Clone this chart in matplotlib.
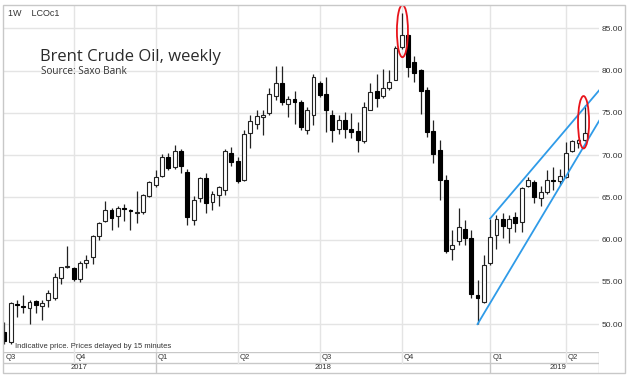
import numpy as np
import pandas as pd
import matplotlib.pyplot as plt
from matplotlib.patches import Ellipse, Rectangle

# weekly bars, Brent crude (LCOc1)
weeks = pd.date_range('2017-07-17', periods=93, freq='7D')

opens = [49.1, 47.9, 52.4, 52.2, 51.85, 52.75, 52.1, 52.86, 53.1, 55.5,
         56.75, 56.6, 55.3, 57.2, 57.9, 60.45, 62.2, 63.55, 62.8, 63.7,
         63.45, 63.2, 63.3, 65.15, 66.45, 67.55, 69.8, 68.6, 70.5, 68.0,
         62.3, 64.9, 67.25, 64.45, 65.25, 65.85, 70.25, 69.3, 67.05, 72.65,
         73.65, 74.5, 74.95, 77.0, 78.6, 76.1, 76.6, 76.3, 72.95, 74.75,
         78.6, 77.3, 74.8, 73.15, 74.2, 73.15, 72.85, 71.7, 75.4, 77.6,
         77.0, 78.0, 78.95, 82.75, 84.2, 81.0, 80.05, 77.7, 72.85, 70.6,
         67.05, 58.85, 59.9, 61.3, 60.15, 53.4, 52.65, 57.2, 60.55, 62.5,
         61.35, 62.7, 62.1, 66.35, 66.85, 64.9, 65.7, 67.05, 67.0, 67.45,
         70.5, 71.4, 71.85]
highs = [50.2, 52.6, 52.8, 53.4, 52.85, 52.85, 52.85, 54.0, 56.0, 56.8,
         59.3, 56.8, 57.5, 58.2, 60.5, 62.1, 64.6, 63.7, 63.95, 64.2,
         63.6, 65.8, 65.35, 66.95, 68.2, 70.1, 70.2, 71.2, 70.7, 68.4,
         65.15, 67.45, 67.85, 65.8, 66.35, 70.7, 71.0, 69.8, 72.95, 74.7,
         75.4, 75.4, 77.9, 80.5, 80.5, 77.0, 77.6, 76.5, 75.7, 79.65,
         78.8, 79.3, 75.3, 74.7, 75.1, 75.0, 73.95, 76.3, 78.5, 79.65,
         80.15, 80.05, 82.9, 86.85, 84.4, 81.8, 80.25, 78.1, 74.15, 71.8,
         67.6, 61.1, 63.7, 62.3, 61.1, 55.2, 58.15, 62.5, 62.9, 63.1,
         62.9, 63.3, 66.25, 67.45, 67.05, 66.4, 68.25, 68.6, 68.4, 71.6,
         71.85, 71.95, 75.9]
lows = [47.7, 47.65, 50.9, 51.3, 50.0, 51.3, 50.5, 52.0, 52.85, 54.8,
        56.6, 55.1, 55.0, 56.6, 57.1, 60.0, 62.1, 61.1, 61.45, 62.2,
        61.1, 62.0, 63.0, 65.05, 66.25, 67.45, 68.2, 68.4, 67.9, 61.7,
        61.7, 64.5, 63.2, 63.5, 64.0, 65.25, 68.7, 66.65, 66.95, 70.8,
        73.15, 72.35, 74.75, 76.5, 75.9, 74.55, 73.75, 72.95, 72.55, 73.55,
        76.9, 72.8, 71.55, 72.55, 72.0, 72.0, 70.4, 71.5, 75.3, 75.7,
        76.8, 77.7, 78.9, 82.6, 79.3, 78.7, 74.9, 72.15, 69.1, 64.7,
        58.4, 57.55, 59.35, 59.35, 53.05, 50.0, 52.45, 57.0, 58.85, 60.15,
        59.55, 60.9, 60.9, 66.2, 64.3, 64.0, 65.45, 65.85, 66.45, 67.3,
        70.4, 70.8, 71.7]
closes = [48.05, 52.45, 52.3, 52.0, 52.6, 52.25, 52.5, 53.66, 55.55, 56.8,
          56.8, 55.4, 57.25, 57.65, 60.4, 62.0, 63.5, 62.6, 63.75, 63.65,
          63.4, 63.25, 65.25, 66.85, 67.45, 69.8, 68.5, 70.5, 68.7, 62.7,
          64.75, 67.25, 64.3, 65.4, 66.2, 70.5, 69.2, 67.0, 72.55, 74.0,
          74.6, 74.8, 77.2, 78.5, 76.25, 76.7, 76.3, 73.35, 75.4, 79.25,
          77.1, 75.3, 72.95, 74.2, 73.05, 72.75, 71.85, 75.7, 77.5, 76.8,
          78.0, 78.7, 82.7, 84.2, 80.45, 79.75, 77.55, 72.75, 70.1, 67.05,
          58.7, 59.35, 61.5, 60.15, 53.6, 53.1, 57.0, 60.35, 62.5, 61.6,
          62.5, 62.0, 66.15, 67.05, 65.0, 65.7, 67.05, 67.0, 67.55, 70.3,
          71.65, 71.85, 72.65]

price_ticks = [50, 55, 60, 65, 70, 75, 80, 85]

# trend channel (bar index, price)
channel_lower = ([75, 94.3], [50.0, 74.1])
channel_upper = ([77, 94.3], [62.5, 77.7])
# highlighted bars (bar index, price)
highlights = [(63.1, 84.7), (91.8, 73.9)]

W, H = 633, 381
fig = plt.figure(figsize=(W / 100, H / 100), dpi=100)
fig.patch.set_facecolor('white')

def fx(px):
    return px / W

def fy(py):
    return 1 - py / H

grid_c = '#e4e4e4'
frame_c = '#c8c8c8'
text_c = '#333333'

ax = fig.add_axes([fx(3), fy(352), fx(599) - fx(3), fy(5) - fy(352)])
ax.set_xlim(-0.2, 94.25)
ax.set_ylim(46.7, 87.78)
for s in ax.spines.values():
    s.set_visible(False)

o = np.array(opens)
h = np.array(highs)
l = np.array(lows)
c = np.array(closes)
x = np.arange(len(o))

ax.vlines(x, l, h, color='#222222', lw=0.9, zorder=3)
up = c >= o
bot = np.minimum(o, c)
hgt = np.maximum(np.abs(c - o), 0.1)
ax.bar(x[up], hgt[up], bottom=bot[up], width=0.62, facecolor='white',
       edgecolor='#222222', lw=0.8, zorder=4)
ax.bar(x[~up], hgt[~up], bottom=bot[~up], width=0.62, facecolor='black',
       edgecolor='black', lw=0.8, zorder=4)

# quarter / year boundaries
q = weeks.to_period('Q')
q_idx = [i for i in range(1, len(q)) if q[i] != q[i - 1]]
y_idx = [i for i in q_idx if weeks[i].year != weeks[i - 1].year]

ax.set_yticks(price_ticks)
ax.set_yticklabels(['%.2f' % v for v in price_ticks])
ax.yaxis.tick_right()
ax.tick_params(axis='y', length=0, pad=2, labelsize=6, labelcolor=text_c)
for lab in ax.get_yticklabels():
    lab.set_family('Liberation Sans')
ax.set_xticks([])
ax.grid(axis='y', color=grid_c, lw=1, zorder=0)
for i in q_idx:
    ax.axvline(i, color=grid_c, lw=1, zorder=0)

ax.plot(*channel_lower, color='#2f9be8', lw=1.3, zorder=5)
ax.plot(*channel_upper, color='#2f9be8', lw=1.3, zorder=5)
for cx, cy in highlights:
    ax.add_patch(Ellipse((cx, cy), 1.75, 6.2, fill=False, edgecolor='#e8141b',
                         lw=1.3, zorder=6))

# time axis rows
axb = fig.add_axes([fx(3), fy(372.7), fx(599) - fx(3), fy(352.3) - fy(372.7)])
axb.set_xlim(ax.get_xlim())
axb.set_ylim(0, 2)
axb.axis('off')
axb.axhline(2, color=frame_c, lw=1)
axb.axhline(1, color=frame_c, lw=1)
axb.axvline(94.25, color=frame_c, lw=1)
for i in q_idx:
    top = 0 if i in y_idx else 1
    axb.plot([i, i], [top, 2], color=frame_c if top == 0 else grid_c, lw=1)
q_pos = [-0.2] + q_idx
for i in q_pos:
    lab = 'Q%d' % q[max(i, 0)].quarter
    axb.text(i + 0.35, 1.5, lab, fontsize=5.5, color=text_c, va='center',
             ha='left', family='Liberation Sans')
edges = [-0.2] + y_idx + [98.4]
for k in range(len(edges) - 1):
    yr = weeks[max(edges[k], 0)].year
    axb.text((edges[k] + edges[k + 1]) / 2, 0.5, str(yr), fontsize=5.5,
             color=text_c, va='center', ha='center', family='Liberation Sans',
             clip_on=False)

# outer frame
fig.patches.append(Rectangle((fx(3), fy(372.7)), fx(625) - fx(3), fy(5) - fy(372.7),
                             transform=fig.transFigure, fill=False,
                             edgecolor=frame_c, lw=1))

fig.text(fx(8), fy(14), '1W    LCOc1', fontsize=6.5, color=text_c,
         va='center', family='Liberation Sans')
fig.text(fx(40), fy(57), 'Brent Crude Oil, weekly', fontsize=12, color='#2b2b2b',
         va='center', family='Open Sans')
fig.text(fx(41), fy(72), 'Source: Saxo Bank', fontsize=7.2, color=text_c,
         va='center', family='Open Sans')
fig.text(fx(15), fy(347), 'Indicative price. Prices delayed by 15 minutes',
         fontsize=5.5, color=text_c, va='center', family='Liberation Sans')

fig.savefig('out.png', dpi=100)
